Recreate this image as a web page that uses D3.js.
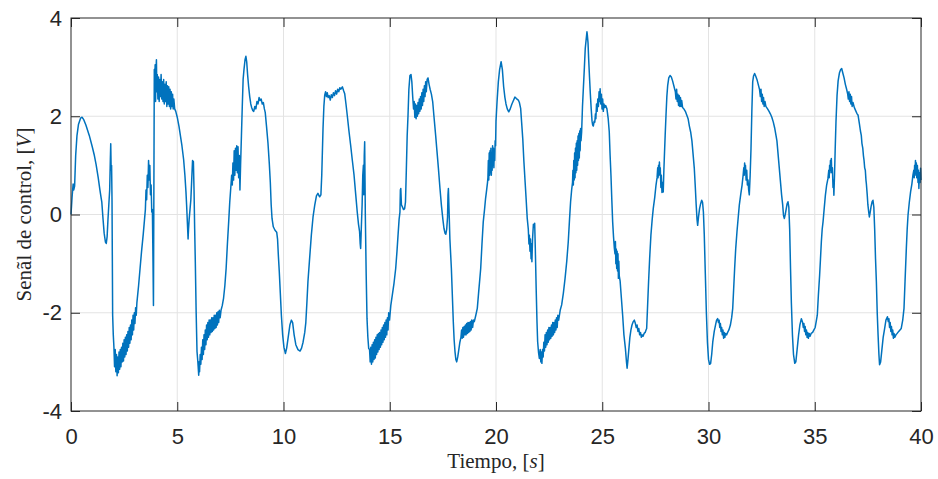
<!DOCTYPE html>
<html>
<head>
<meta charset="utf-8">
<script src="https://cdn.jsdelivr.net/npm/d3@7"></script>
<style>
  body { margin: 0; background: #fff; }
  .tick text { font-family: "Liberation Sans", Arial, sans-serif; font-size: 22px; fill: #262626; }
  .axisLabel { font-family: "Liberation Serif", "Times New Roman", serif; font-size: 21px; fill: #262626; }
</style>
</head>
<body>
<div id="chart"></div>
<script>
// tick labels
const xTicks = [0, 5, 10, 15, 20, 25, 30, 35, 40];
const yTicks = [-4, -2, 0, 2, 4];

// signal: [time s, control signal V]
const senal = [
  [0,0],[0.05,0.35],[0.1,0.62],[0.13,0.5],[0.17,0.58],[0.22,1.2],[0.28,1.6],[0.35,1.83],[0.45,1.96],[0.52,1.98],
  [0.6,1.93],[0.7,1.82],[0.86,1.61],[1.0,1.38],[1.1,1.2],[1.18,1.02],[1.28,0.75],[1.36,0.5],[1.41,0.36],[1.45,0.25],
  [1.5,-0.05],[1.56,-0.38],[1.62,-0.56],[1.66,-0.59],[1.7,-0.45],[1.74,-0.1],[1.78,0.2],[1.82,0.5],[1.85,1.1],[1.87,1.44],
  [1.89,0.9],[1.91,1.0],[1.93,0.3],[1.96,-2.05],[1.99,-2.45],
  [2.02,-2.7],[2.05,-3.1],[2.08,-2.75],[2.11,-3.2],[2.14,-2.85],[2.17,-3.28],[2.2,-2.9],[2.23,-3.22],[2.26,-2.8],[2.29,-3.15],
  [2.32,-2.75],[2.35,-3.1],[2.38,-2.7],[2.41,-3.0],[2.44,-2.62],[2.47,-2.98],[2.5,-2.55],[2.53,-2.9],[2.56,-2.5],[2.59,-2.85],
  [2.62,-2.45],[2.65,-2.78],[2.68,-2.38],[2.71,-2.7],[2.74,-2.3],[2.77,-2.62],[2.8,-2.25],[2.83,-2.55],[2.86,-2.15],[2.89,-2.45],
  [2.92,-2.05],[2.95,-2.35],[2.98,-2.0],[3.01,-2.22],[3.04,-1.9],[3.07,-2.05],[3.1,-1.8],
  [3.18,-1.45],[3.25,-1.1],[3.32,-0.75],[3.4,-0.4],[3.46,-0.1],[3.5,0.1],[3.53,0.5],[3.56,0.3],[3.59,0.8],[3.62,0.55],
  [3.65,1.1],[3.68,0.7],[3.71,1.0],[3.74,0.4],[3.77,0.6],[3.8,0.05],[3.83,0.1],[3.86,-1.0],[3.88,-1.85],[3.9,0.5],
  [3.92,2.95],[3.94,2.6],[3.96,3.05],[3.98,2.3],[4.0,2.95],[4.02,3.15],[4.04,2.5],
  [4.06,2.85],[4.09,2.35],[4.12,2.8],[4.15,2.3],[4.18,2.75],[4.21,2.4],[4.24,2.85],[4.27,2.35],[4.3,2.7],[4.33,2.3],
  [4.36,2.75],[4.39,2.25],[4.42,2.65],[4.45,2.3],[4.48,2.7],[4.51,2.2],[4.54,2.62],[4.57,2.25],[4.6,2.6],[4.63,2.2],
  [4.66,2.55],[4.69,2.15],[4.72,2.5],[4.75,2.2],[4.78,2.45],[4.81,2.15],[4.84,2.35],[4.88,2.15],[4.93,2.1],[5.0,1.98],
  [5.08,1.8],[5.15,1.6],[5.22,1.4],[5.3,1.12],[5.36,0.8],[5.41,0.46],[5.44,0.2],[5.48,-0.2],[5.51,-0.5],[5.53,-0.3],
  [5.56,-0.1],[5.6,0.1],[5.64,0.3],[5.68,0.7],[5.72,1.1],[5.74,0.95],[5.76,1.08],[5.79,0.5],[5.82,-0.3],[5.85,-0.96],
  [5.89,-2.0],[5.93,-2.79],[5.97,-3.0],[6.01,-3.27],[6.03,-3.0],[6.05,-3.2],[6.08,-2.85],[6.11,-3.05],[6.14,-2.7],[6.17,-2.95],
  [6.2,-2.55],[6.23,-2.85],[6.26,-2.45],[6.29,-2.75],[6.32,-2.35],[6.35,-2.65],[6.38,-2.25],[6.41,-2.55],[6.44,-2.2],[6.47,-2.5],
  [6.5,-2.15],[6.53,-2.45],[6.56,-2.15],[6.59,-2.4],[6.62,-2.1],[6.65,-2.38],[6.68,-2.1],[6.71,-2.35],[6.74,-2.05],[6.77,-2.32],
  [6.8,-2.05],[6.83,-2.3],[6.86,-2.0],[6.89,-2.25],[6.92,-1.98],[6.95,-2.2],[6.98,-1.95],[7.02,-2.1],[7.06,-1.95],[7.12,-1.85],
  [7.18,-1.7],[7.24,-1.45],[7.3,-1.1],[7.36,-0.6],[7.42,-0.15],[7.47,0.25],[7.52,0.55],[7.56,0.8],
  [7.59,0.6],[7.62,1.05],[7.65,0.7],[7.68,1.3],[7.71,0.8],[7.74,1.35],[7.77,0.9],[7.8,1.4],[7.83,0.85],[7.86,1.38],
  [7.89,0.75],[7.92,1.2],[7.95,0.5],[7.98,1.0],[8.02,1.6],[8.06,2.2],[8.1,2.75],[8.14,2.95],[8.19,3.15],[8.23,3.22],
  [8.27,3.1],[8.31,2.85],[8.36,2.6],[8.41,2.4],[8.46,2.25],[8.5,2.18],[8.55,2.12],[8.6,2.1],[8.65,2.2],[8.7,2.15],
  [8.75,2.3],[8.8,2.25],[8.85,2.38],[8.9,2.32],[8.95,2.35],[9.0,2.25],[9.05,2.28],[9.1,2.15],[9.14,2.08],[9.2,1.8],
  [9.27,1.45],[9.33,1.05],[9.38,0.65],[9.42,0.2],[9.46,-0.08],[9.52,-0.25],[9.6,-0.32],[9.68,-0.36],[9.72,-0.5],[9.76,-0.85],
  [9.8,-1.15],[9.85,-1.6],[9.9,-2.05],[9.96,-2.45],[10.02,-2.7],[10.09,-2.83],[10.15,-2.72],[10.22,-2.5],[10.3,-2.25],[10.37,-2.15],
  [10.43,-2.2],[10.5,-2.45],[10.58,-2.65],[10.68,-2.75],[10.78,-2.78],[10.85,-2.72],[10.92,-2.6],[11.0,-2.4],[11.05,-2.2],[11.1,-1.8],
  [11.15,-1.37],[11.22,-0.95],[11.31,-0.42],[11.39,-0.05],[11.47,0.19],[11.55,0.38],[11.62,0.43],[11.7,0.36],[11.76,0.4],[11.8,0.8],
  [11.86,1.75],[11.9,2.2],[11.94,2.43],[11.98,2.5],[12.02,2.4],[12.06,2.48],[12.1,2.38],[12.15,2.42],[12.2,2.33],[12.25,2.44],
  [12.3,2.38],[12.35,2.48],[12.4,2.42],[12.45,2.52],[12.5,2.45],[12.55,2.55],[12.6,2.5],[12.65,2.58],[12.7,2.55],[12.77,2.6],
  [12.83,2.52],[12.88,2.46],[12.94,2.25],[13.0,2.02],[13.08,1.7],[13.16,1.41],[13.24,1.1],[13.32,0.8],[13.4,0.4],[13.47,0.05],
  [13.53,-0.2],[13.58,-0.35],[13.61,-0.6],[13.63,-0.69],[13.66,-0.3],[13.7,0.2],[13.73,0.8],[13.76,1.0],[13.78,0.4],[13.8,1.2],
  [13.82,1.48],[13.85,0.0],[13.89,-1.2],[13.93,-2.12],[13.97,-2.5],[14.01,-2.73],
  [14.05,-2.75],[14.08,-3.0],[14.11,-2.7],[14.14,-3.05],[14.17,-2.65],[14.2,-3.0],[14.23,-2.6],[14.26,-2.95],[14.29,-2.55],[14.32,-2.92],
  [14.35,-2.5],[14.38,-2.85],[14.41,-2.45],[14.44,-2.8],[14.47,-2.42],[14.5,-2.75],[14.53,-2.4],[14.56,-2.7],[14.59,-2.35],[14.62,-2.65],
  [14.65,-2.3],[14.68,-2.6],[14.71,-2.25],[14.74,-2.55],[14.77,-2.2],[14.8,-2.5],[14.83,-2.15],[14.86,-2.45],[14.89,-2.1],[14.92,-2.35],
  [14.95,-2.0],[14.99,-2.15],[15.05,-1.85],[15.12,-1.64],[15.2,-1.4],[15.28,-1.1],[15.34,-0.75],[15.39,-0.42],[15.44,-0.1],[15.48,0.05],
  [15.5,0.5],[15.52,0.53],[15.55,0.2],[15.6,0.15],[15.65,0.1],[15.7,0.12],[15.74,0.25],[15.78,0.9],[15.82,1.6],[15.86,2.02],
  [15.9,2.55],[15.95,2.83],[16.0,2.85],[16.04,2.7],[16.08,2.4],[16.12,2.15],
  [16.15,2.3],[16.18,1.98],[16.21,2.25],[16.24,1.95],[16.27,2.22],[16.3,2.0],[16.33,2.28],[16.36,2.05],[16.39,2.35],[16.42,2.1],
  [16.45,2.4],[16.48,2.15],[16.51,2.48],[16.54,2.22],[16.57,2.55],[16.6,2.3],[16.63,2.62],[16.66,2.4],[16.69,2.7],[16.72,2.5],
  [16.76,2.75],[16.8,2.78],[16.85,2.65],[16.9,2.55],[16.96,2.45],[17.02,2.3],[17.08,2.0],[17.16,1.61],[17.22,1.3],[17.29,0.94],
  [17.36,0.55],[17.43,0.19],[17.5,-0.1],[17.55,-0.28],[17.6,-0.38],[17.64,-0.4],[17.68,-0.3],[17.72,-0.05],[17.74,0.4],[17.76,0.53],
  [17.79,0.1],[17.83,-0.5],[17.9,-1.1],[17.95,-1.7],[17.99,-2.18],[18.03,-2.55],[18.07,-2.79],[18.11,-2.95],[18.15,-3.0],[18.2,-2.9],
  [18.25,-2.75],[18.3,-2.6],[18.35,-2.5],
  [18.38,-2.35],[18.41,-2.52],[18.44,-2.3],[18.47,-2.5],[18.5,-2.28],[18.53,-2.45],[18.56,-2.25],[18.59,-2.45],[18.62,-2.22],[18.65,-2.42],
  [18.68,-2.2],[18.71,-2.4],[18.74,-2.2],[18.77,-2.38],[18.8,-2.18],[18.83,-2.35],[18.86,-2.15],[18.9,-2.3],[18.94,-2.15],[18.98,-2.18],
  [19.05,-2.05],[19.12,-1.91],[19.18,-1.6],[19.23,-1.35],[19.28,-1.1],[19.34,-0.6],[19.4,-0.15],[19.46,0.1],[19.51,0.33],[19.56,0.5],
  [19.6,0.65],[19.62,0.75],[19.64,1.1],[19.66,0.7],[19.68,1.25],[19.7,0.8],[19.72,1.3],[19.74,0.85],[19.76,1.35],[19.78,0.8],
  [19.8,1.2],[19.82,0.9],[19.84,1.4],[19.86,1.0],[19.88,1.35],[19.9,0.95],[19.92,1.3],[19.94,1.1],[19.96,1.5],[19.98,1.4],
  [20.0,1.9],[20.05,2.3],[20.11,2.7],[20.17,2.95],[20.24,3.11],[20.3,2.95],[20.36,2.6],[20.42,2.38],[20.47,2.25],[20.53,2.15],
  [20.6,2.09],[20.67,2.15],[20.74,2.24],[20.8,2.3],[20.89,2.39],[20.96,2.36],[21.05,2.33],[21.1,2.28],[21.16,2.16],[21.21,1.85],
  [21.26,1.54],[21.31,1.1],[21.37,0.66],[21.42,0.3],[21.47,-0.08],[21.52,-0.3],[21.55,-0.6],[21.57,-0.42],[21.6,-0.75],[21.62,-0.5],
  [21.65,-0.9],[21.67,-0.6],[21.69,-0.96],[21.72,-0.5],[21.76,-0.2],[21.79,-0.25],[21.82,-0.18],[21.85,-0.7],[21.89,-1.5],[21.93,-2.2],
  [21.96,-2.59],[22.0,-2.8],[22.04,-2.93],[22.08,-2.75],[22.11,-3.0],[22.14,-2.8],[22.16,-3.03],[22.19,-2.75],[22.22,-2.9],[22.25,-2.6],
  [22.28,-2.78],[22.31,-2.45],[22.34,-2.7],[22.37,-2.4],[22.4,-2.65],[22.43,-2.35],[22.46,-2.6],[22.49,-2.3],[22.52,-2.55],[22.55,-2.3],
  [22.58,-2.52],[22.61,-2.25],[22.64,-2.48],[22.67,-2.2],[22.7,-2.45],[22.73,-2.2],[22.76,-2.4],[22.79,-2.15],[22.82,-2.35],[22.85,-2.1],
  [22.88,-2.3],[22.91,-2.05],[22.95,-2.15],[23.02,-1.95],[23.09,-1.84],[23.17,-1.6],[23.25,-1.3],[23.33,-0.95],[23.4,-0.56],[23.46,-0.1],
  [23.51,0.26],[23.56,0.5],[23.6,0.65],
  [23.62,0.9],[23.64,0.6],[23.66,1.1],[23.68,0.7],[23.7,1.25],[23.72,0.75],[23.74,1.35],[23.76,0.85],[23.78,1.45],[23.8,0.9],
  [23.82,1.5],[23.84,1.0],[23.86,1.6],[23.88,1.1],[23.9,1.65],[23.92,1.15],[23.94,1.7],[23.96,1.3],[23.98,1.75],[24.0,1.5],
  [24.03,1.68],[24.07,2.2],[24.11,2.56],[24.16,3.0],[24.2,3.38],[24.24,3.55],[24.28,3.72],[24.3,3.65],[24.33,3.5],[24.36,3.17],
  [24.4,2.8],[24.44,2.45],[24.48,2.15],[24.52,1.9],[24.55,1.82],[24.58,1.8],[24.62,1.9],[24.65,1.88],[24.68,2.05],[24.7,1.95],
  [24.73,2.25],[24.76,2.1],[24.79,2.35],[24.82,2.2],[24.85,2.5],[24.88,2.3],[24.9,2.56],[24.93,2.25],[24.96,2.45],[24.99,2.15],
  [25.02,2.35],[25.05,2.1],[25.08,2.25],[25.12,2.18],[25.16,2.22],[25.22,2.15],[25.28,1.95],[25.33,1.68],[25.37,1.2],[25.41,0.8],
  [25.45,0.3],[25.49,-0.15],[25.53,-0.45],[25.57,-0.69],[25.6,-0.8],[25.62,-0.55],[25.64,-1.0],[25.66,-0.7],[25.68,-1.1],[25.7,-0.75],
  [25.72,-1.15],[25.74,-0.8],[25.76,-1.3],[25.78,-0.95],[25.8,-1.25],[25.84,-1.35],[25.9,-1.7],[25.96,-2.05],[26.02,-2.45],[26.09,-2.73],
  [26.14,-3.0],[26.17,-3.13],[26.2,-3.0],[26.25,-2.75],[26.3,-2.5],[26.35,-2.35],[26.4,-2.25],[26.46,-2.18],[26.51,-2.15],[26.56,-2.22],
  [26.6,-2.3],[26.64,-2.25],[26.68,-2.38],[26.72,-2.32],[26.76,-2.45],[26.8,-2.4],[26.84,-2.5],[26.88,-2.45],[26.92,-2.48],[26.97,-2.42],
  [27.02,-2.4],[27.06,-2.35],[27.09,-2.32],[27.13,-1.9],[27.18,-1.37],[27.23,-0.9],[27.29,-0.42],[27.35,-0.1],[27.4,0.12],[27.47,0.35],
  [27.53,0.6],[27.58,0.75],[27.61,0.95],[27.63,0.75],[27.65,1.0],[27.67,0.8],[27.69,1.07],[27.71,0.85],[27.73,0.95],[27.76,0.55],
  [27.78,0.8],[27.81,0.45],[27.84,0.65],[27.87,0.46],[27.9,0.9],[27.92,1.14],[27.96,1.6],[28.0,2.02],[28.04,2.4],[28.08,2.63],
  [28.13,2.78],[28.19,2.83],[28.25,2.8],[28.31,2.72],[28.38,2.6],[28.44,2.5],[28.47,2.35],[28.5,2.55],[28.53,2.3],[28.56,2.45],
  [28.59,2.22],[28.62,2.42],[28.65,2.2],[28.68,2.38],[28.71,2.2],[28.74,2.32],[28.78,2.18],[28.84,2.15],[28.91,2.1],[28.98,2.02],
  [29.04,1.95],[29.1,1.8],[29.16,1.68],[29.22,1.5],[29.27,1.25],[29.33,0.95],[29.38,0.55],[29.42,0.2],[29.46,-0.1],[29.49,-0.22],
  [29.53,-0.05],[29.58,0.12],[29.63,0.22],[29.68,0.29],[29.72,0.25],[29.76,0.05],[29.8,-0.4],[29.85,-1.2],[29.9,-2.0],[29.95,-2.6],
  [30.0,-2.95],[30.05,-3.05],[30.1,-3.03],[30.15,-2.85],[30.2,-2.6],[30.27,-2.38],[30.33,-2.25],[30.38,-2.15],[30.43,-2.12],[30.47,-2.2],
  [30.5,-2.15],[30.53,-2.3],[30.56,-2.22],[30.59,-2.38],[30.62,-2.3],[30.65,-2.45],[30.68,-2.35],[30.71,-2.52],[30.74,-2.4],[30.77,-2.5],
  [30.8,-2.42],[30.85,-2.45],[30.9,-2.4],[30.96,-2.35],[31.03,-2.25],[31.09,-2.1],[31.14,-1.91],[31.18,-1.55],[31.23,-1.1],[31.28,-0.7],
  [31.34,-0.35],[31.4,-0.05],[31.45,0.19],[31.52,0.42],[31.58,0.6],[31.63,0.8],[31.66,0.95],[31.68,0.8],[31.7,1.05],[31.72,0.85],
  [31.74,1.0],[31.77,0.7],[31.8,0.9],[31.83,0.6],[31.86,0.7],[31.89,0.5],[31.92,0.4],[31.96,0.8],[32.0,1.34],[32.04,2.1],
  [32.08,2.7],[32.12,2.82],[32.17,2.87],[32.22,2.82],[32.28,2.75],[32.34,2.65],[32.4,2.55],[32.44,2.4],[32.47,2.55],[32.5,2.3],
  [32.53,2.45],[32.56,2.25],[32.59,2.38],[32.62,2.2],[32.66,2.3],[32.7,2.2],[32.78,2.15],[32.85,2.1],[32.91,2.05],[32.98,1.98],
  [33.05,1.88],[33.12,1.75],[33.18,1.6],[33.22,1.5],[33.27,1.25],[33.32,1.0],[33.38,0.7],[33.44,0.4],[33.49,0.2],[33.53,-0.02],
  [33.57,-0.08],[33.61,0.0],[33.66,0.12],[33.7,0.22],[33.74,0.26],[33.78,0.15],[33.82,-0.3],[33.86,-1.1],[33.9,-1.8],[33.95,-2.45],
  [34.0,-2.85],[34.06,-3.03],[34.11,-3.0],[34.17,-2.75],[34.24,-2.45],[34.3,-2.25],[34.37,-2.12],[34.43,-2.2],[34.46,-2.3],[34.49,-2.22],
  [34.52,-2.38],[34.55,-2.28],[34.58,-2.45],[34.61,-2.35],[34.64,-2.5],[34.67,-2.4],[34.7,-2.52],[34.74,-2.42],[34.78,-2.48],[34.83,-2.42],
  [34.9,-2.4],[34.96,-2.35],[35.02,-2.3],[35.08,-2.15],[35.12,-2.05],[35.17,-1.65],[35.23,-1.23],[35.27,-0.9],[35.31,-0.56],[35.35,-0.3],
  [35.39,-0.15],[35.44,0.1],[35.5,0.39],[35.56,0.6],[35.62,0.73],[35.66,0.9],[35.68,0.75],[35.7,1.0],[35.72,0.85],[35.74,1.1],
  [35.76,0.9],[35.78,1.14],[35.8,0.85],[35.83,0.95],[35.86,0.55],[35.88,0.7],[35.9,0.39],[35.93,0.8],[35.96,1.3],[36.0,1.9],
  [36.05,2.43],[36.1,2.72],[36.16,2.88],[36.22,2.95],[36.27,2.97],[36.32,2.88],[36.38,2.78],[36.44,2.65],[36.5,2.55],[36.55,2.45],
  [36.58,2.35],[36.61,2.5],[36.64,2.3],[36.67,2.45],[36.7,2.25],[36.73,2.4],[36.76,2.2],[36.8,2.28],[36.86,2.18],[36.92,2.12],
  [36.98,2.06],[37.04,2.02],[37.1,1.85],[37.15,1.7],[37.19,1.61],[37.22,1.45],[37.26,1.35],[37.29,1.2],[37.32,1.1],[37.35,0.95],
  [37.38,0.9],[37.41,0.7],[37.43,0.62],[37.47,0.4],[37.5,0.2],[37.54,0.05],[37.57,-0.05],[37.61,0.05],[37.65,0.16],[37.7,0.26],
  [37.74,0.29],[37.78,0.15],[37.82,-0.3],[37.86,-0.9],[37.9,-1.37],[37.94,-2.0],[37.98,-2.45],[38.02,-2.85],[38.05,-3.06],[38.1,-3.0],
  [38.16,-2.75],[38.22,-2.5],[38.29,-2.32],[38.35,-2.15],[38.42,-2.08],[38.46,-2.18],[38.49,-2.12],[38.52,-2.3],[38.55,-2.2],[38.58,-2.38],
  [38.61,-2.28],[38.64,-2.45],[38.67,-2.35],[38.7,-2.52],[38.73,-2.42],[38.77,-2.5],[38.82,-2.45],[38.88,-2.42],[38.95,-2.38],[39.01,-2.35],
  [39.07,-2.32],[39.14,-2.15],[39.2,-1.91],[39.25,-1.35],[39.31,-0.69],[39.35,-0.3],[39.39,-0.01],[39.45,0.25],[39.51,0.46],[39.57,0.62],
  [39.62,0.8],[39.66,0.9],[39.68,0.75],[39.7,1.0],[39.72,0.85],[39.74,1.1],[39.76,0.8],[39.78,1.05],[39.8,0.75],[39.83,1.0],
  [39.86,0.65],[39.88,0.9],[39.9,0.53],[39.93,0.85],[39.96,0.65],[39.98,0.94],[40.0,0.7]
];

// svg dimensions and plot box
const svgWidth = 938;
const svgHeight = 479;
const margin = {top: 18, right: 17, bottom: 68, left: 71};
const plotW = svgWidth - margin.left - margin.right;
const plotH = svgHeight - margin.top - margin.bottom;
const tickLen = 9;
const axisColor = "#262626";

let svg = d3.select("#chart")
  .append("svg")
  .attr("width", svgWidth)
  .attr("height", svgHeight)
  .append("g")
    .attr("transform", `translate(${margin.left}, ${margin.top})`);

const xScale = d3.scaleLinear().domain([0, 40]).range([0, plotW]);
const yScale = d3.scaleLinear().domain([-4, 4]).range([plotH, 0]);

// grid
svg.append("g")
  .selectAll("line")
  .data(xTicks.slice(1, -1))
  .enter().append("line")
  .attr("x1", d => xScale(d)).attr("x2", d => xScale(d))
  .attr("y1", 0).attr("y2", plotH)
  .attr("stroke", "#e3e3e3").attr("stroke-width", 1);
svg.append("g")
  .selectAll("line")
  .data(yTicks.slice(1, -1))
  .enter().append("line")
  .attr("x1", 0).attr("x2", plotW)
  .attr("y1", d => yScale(d)).attr("y2", d => yScale(d))
  .attr("stroke", "#e3e3e3").attr("stroke-width", 1);

// signal
const line = d3.line()
  .x(d => xScale(d[0]))
  .y(d => yScale(d[1]));

svg.append("path")
  .datum(senal)
  .attr("fill", "none")
  .attr("stroke", "#0072BD")
  .attr("stroke-width", 1.5)
  .attr("stroke-linejoin", "round")
  .attr("d", line);

// axes, ticks pointing inward; plain hyphen for negatives like the original
const fmt = d => String(d);
const xAxis = d3.axisBottom(xScale).tickValues(xTicks).tickFormat(fmt).tickSizeInner(-tickLen).tickSizeOuter(0).tickPadding(17);
const yAxis = d3.axisLeft(yScale).tickValues(yTicks).tickFormat(fmt).tickSizeInner(-tickLen).tickSizeOuter(0).tickPadding(9);
const xTop = d3.axisTop(xScale).tickValues(xTicks).tickSizeInner(-tickLen).tickSizeOuter(0).tickFormat("");
const yRight = d3.axisRight(yScale).tickValues(yTicks).tickSizeInner(-tickLen).tickSizeOuter(0).tickFormat("");

const axes = [
  svg.append("g").attr("transform", `translate(0, ${plotH})`).call(xAxis),
  svg.append("g").call(yAxis),
  svg.append("g").call(xTop),
  svg.append("g").attr("transform", `translate(${plotW}, 0)`).call(yRight)
];
axes.forEach(g => {
  g.selectAll(".domain").remove();
  g.selectAll(".tick line").attr("stroke", axisColor);
});

svg.append("rect")
  .attr("width", plotW)
  .attr("height", plotH)
  .attr("fill", "none")
  .attr("stroke", axisColor)
  .attr("stroke-width", 1);

// axis labels
const xLabel = svg.append("text")
  .attr("class", "axisLabel")
  .attr("x", plotW / 2)
  .attr("y", plotH + 57)
  .attr("text-anchor", "middle");
xLabel.append("tspan").text("Tiempo, [");
xLabel.append("tspan").attr("font-style", "italic").text("s");
xLabel.append("tspan").text("]");

const yLabel = svg.append("text")
  .attr("class", "axisLabel")
  .attr("transform", `translate(${-40}, ${plotH / 2}) rotate(-90)`)
  .attr("text-anchor", "middle");
yLabel.append("tspan").text("Senãl de control, [");
yLabel.append("tspan").attr("font-style", "italic").text("V");
yLabel.append("tspan").text("]");
</script>
</body>
</html>
